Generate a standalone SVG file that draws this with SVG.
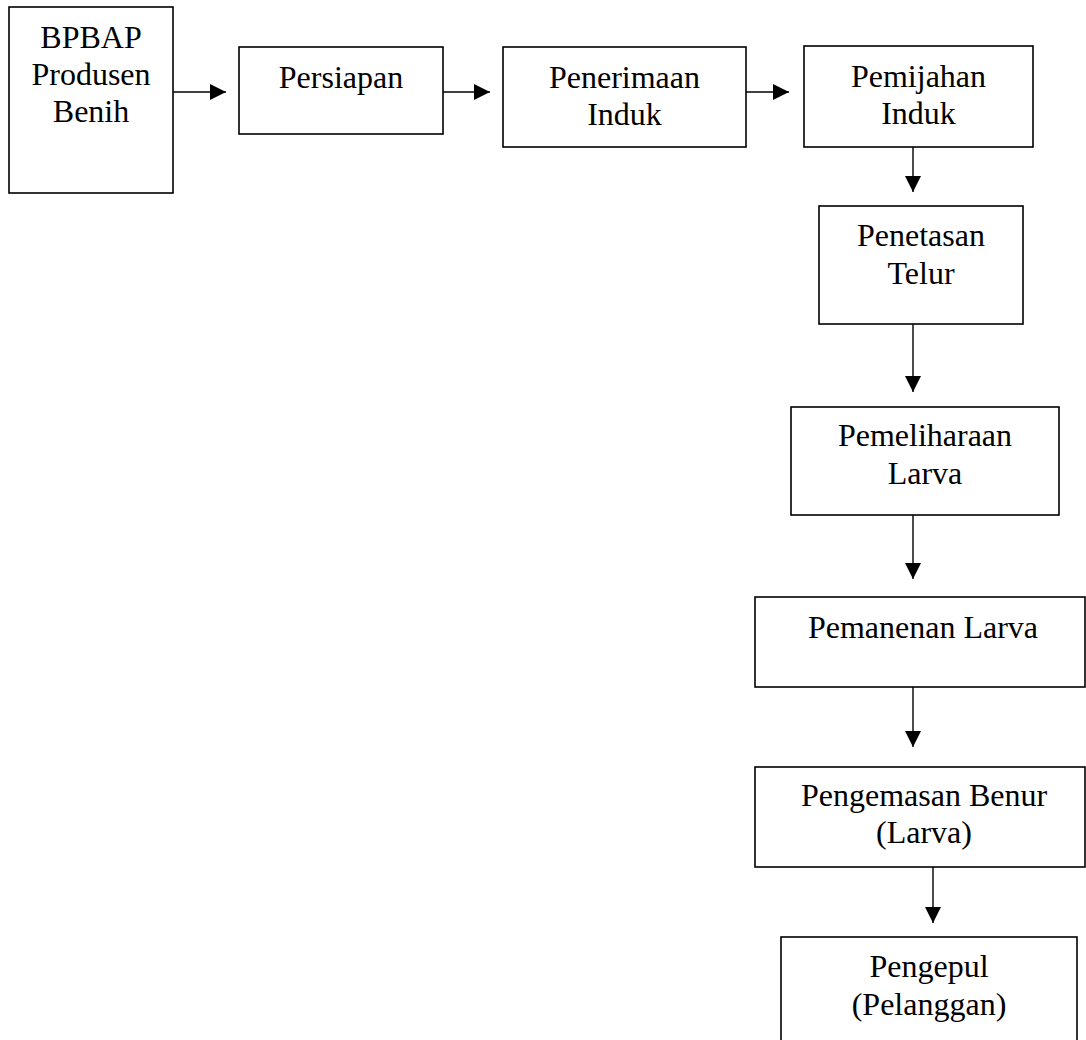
<svg xmlns="http://www.w3.org/2000/svg" width="1086" height="1040" viewBox="0 0 1086 1040">
<style>
.box{fill:#fff;stroke:#000;stroke-width:1.6}
.lbl{font-family:"Liberation Serif","Times New Roman",serif;font-size:32px;fill:#000;text-anchor:middle}
.con{stroke:#000;stroke-width:1.4;fill:none}
</style>
<defs>
<marker id="ah" markerUnits="userSpaceOnUse" markerWidth="16" markerHeight="16" refX="16" refY="8" orient="auto">
<path d="M0,0 L16,8 L0,16 z" fill="#000"/>
</marker>
</defs>
<rect width="1086" height="1040" fill="#fff"/>
<g id="connectors">
<line class="con" x1="173" y1="92" x2="226" y2="92" marker-end="url(#ah)"/>
<line class="con" x1="443" y1="92" x2="490" y2="92" marker-end="url(#ah)"/>
<line class="con" x1="746" y1="92" x2="789" y2="92" marker-end="url(#ah)"/>
<line class="con" x1="913" y1="147" x2="913" y2="192" marker-end="url(#ah)"/>
<line class="con" x1="913" y1="324" x2="913" y2="392" marker-end="url(#ah)"/>
<line class="con" x1="913" y1="515" x2="913" y2="579" marker-end="url(#ah)"/>
<line class="con" x1="913" y1="687" x2="913" y2="747" marker-end="url(#ah)"/>
<line class="con" x1="933" y1="867" x2="933" y2="923" marker-end="url(#ah)"/>
</g>
<g id="n1"><rect class="box" x="9" y="7" width="164" height="186"/>
<text class="lbl" x="91" y="48">BPBAP</text><text class="lbl" x="91" y="85">Produsen</text><text class="lbl" x="91" y="122">Benih</text></g>
<g id="n2"><rect class="box" x="239" y="47" width="204" height="87"/>
<text class="lbl" x="341" y="88">Persiapan</text></g>
<g id="n3"><rect class="box" x="503" y="47" width="243" height="100"/>
<text class="lbl" x="624.5" y="88">Penerimaan</text><text class="lbl" x="624.5" y="125">Induk</text></g>
<g id="n4"><rect class="box" x="804" y="46" width="229" height="101"/>
<text class="lbl" x="918.5" y="87">Pemijahan</text><text class="lbl" x="918.5" y="124">Induk</text></g>
<g id="n5"><rect class="box" x="819" y="206" width="204" height="118"/>
<text class="lbl" x="921" y="246">Penetasan</text><text class="lbl" x="921" y="284">Telur</text></g>
<g id="n6"><rect class="box" x="791" y="407" width="268" height="108"/>
<text class="lbl" x="925" y="446">Pemeliharaan</text><text class="lbl" x="925" y="484">Larva</text></g>
<g id="n7"><rect class="box" x="755" y="597" width="330" height="90"/>
<text class="lbl" x="923" y="638">Pemanenan Larva</text></g>
<g id="n8"><rect class="box" x="755" y="767" width="330" height="100"/>
<text class="lbl" x="924" y="806">Pengemasan Benur</text><text class="lbl" x="924" y="843">(Larva)</text></g>
<g id="n9"><rect class="box" x="781" y="937" width="296" height="110"/>
<text class="lbl" x="929" y="977">Pengepul</text><text class="lbl" x="929" y="1015">(Pelanggan)</text></g>
</svg>
